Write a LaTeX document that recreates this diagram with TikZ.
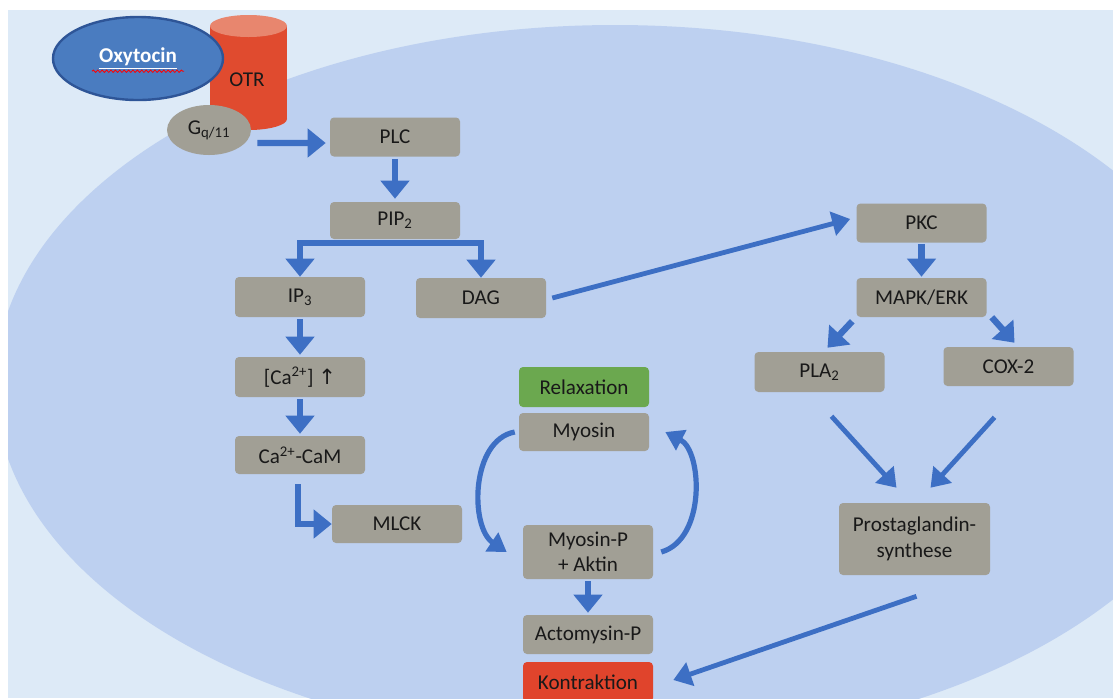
\documentclass[tikz,border=0pt]{standalone}
\usepackage{fontspec}
\setmainfont{Carlito}
\newfontfamily\symfont{DejaVu Sans}
\usetikzlibrary{arrows.meta,shapes.geometric,decorations.pathmorphing}

\definecolor{bgblue}{HTML}{DDEAF7}
\definecolor{cellblue}{HTML}{BDD0F0}
\definecolor{boxgray}{HTML}{A19F95}
\definecolor{arrblue}{HTML}{3D6FC4}
\definecolor{relaxgreen}{HTML}{6BA84F}
\definecolor{kontrred}{HTML}{E0442C}
\definecolor{otrred}{HTML}{E04B2F}
\definecolor{otrtop}{HTML}{E8866E}
\definecolor{oxyblue}{HTML}{4A7CC0}
\definecolor{oxyline}{HTML}{2E5597}

\tikzset{
  molbox/.style={rectangle, rounded corners=1mm, fill=boxgray, minimum width=32.5mm,
    minimum height=9.75mm, inner sep=0pt, text=black!90, align=center,
    font=\fontsize{15}{18}\selectfont},
  arr/.style={arrblue, line width=1.6mm, -{Triangle[width=7mm,length=4.5mm]}},
  thinarr/.style={arrblue, line width=1.2mm, -{Triangle[width=6mm,length=4.5mm]}},
  cycarr/.style={arrblue, line width=1.3mm, -{Triangle[width=5.5mm,length=4.5mm]}},
}

\begin{document}
\begin{tikzpicture}[x=0.25mm,y=-0.25mm]
\useasboundingbox (0,0) rectangle (1113,698);

% Backdrop and cell
\fill[bgblue] (8,10) rectangle (1113,698);
\begin{scope}
  \clip (8,10) rectangle (1113,698);
  \fill[cellblue] (615,385) ellipse [x radius=620, y radius=360];
\end{scope}

% Receptor (OTR)
\fill[otrred] (210,26) rectangle (287,119);
\fill[otrred] (248.5,119) ellipse [x radius=38.5, y radius=11];
\fill[otrtop] (248.5,26) ellipse [x radius=38.5, y radius=11];
\node[font=\fontsize{15}{16}\selectfont, text=black!90] (OTR) at (247,80) {OTR};

% Ligand and G protein
\node[ellipse, fill=oxyblue, draw=oxyline, line width=0.6mm, minimum width=42.5mm,
  minimum height=20.75mm, inner sep=0pt, text=white,
  font=\bfseries\fontsize{15}{16}\selectfont] (Oxy) at (138,58.5) {\underline{Oxytocin}};
\draw[red, line width=0.2mm, decorate, decoration={snake, amplitude=0.3mm, segment length=1.1mm}]
  ([xshift=-11.5mm,yshift=-2.1mm]Oxy.base) -- ([xshift=11.5mm,yshift=-2.1mm]Oxy.base);
\node[ellipse, fill=boxgray, minimum width=21mm, minimum height=12.5mm, inner sep=0pt,
  text=black!90, font=\fontsize{15}{16}\selectfont] (Gq) at (209,130) {G\textsubscript{q/11}};

% Left branch
\node[molbox] (PLC) at (395,137) {PLC};
\node[molbox, minimum height=9.25mm] (PIP2) at (395,220.5) {PIP\textsubscript{2}};
\node[molbox, minimum height=10mm] (IP3) at (300,297) {IP\textsubscript{3}};
\node[molbox, minimum height=10mm] (DAG) at (481,298) {DAG};
\node[molbox, minimum height=10mm] (Ca) at (300,377) {[Ca\textsuperscript{2+}] {\symfont ↑}};
\node[molbox, minimum height=9.5mm] (CaM) at (300,455) {Ca\textsuperscript{2+}-CaM};
\node[molbox, minimum height=9.5mm] (MLCK) at (397,524) {MLCK};

% Contraction cycle
\node[molbox, fill=relaxgreen, minimum height=10mm] (Relax) at (584,387) {Relaxation};
\node[molbox, minimum height=9.5mm] (Myo) at (584,432) {Myosin};
\node[molbox, minimum height=13.5mm] (MyoP) at (588,552) {Myosin-P\\+ Aktin};
\node[molbox] (Acto) at (588,634.5) {Actomysin-P};
\node[molbox, fill=kontrred, minimum height=10mm] (Kontr) at (588,682) {Kontraktion};

% Right branch
\node[molbox] (PKC) at (921.5,223) {PKC};
\node[molbox] (MAPK) at (921.5,297.5) {MAPK/ERK};
\node[molbox, minimum height=10mm] (PLA2) at (819.5,372) {PLA\textsubscript{2}};
\node[molbox] (COX2) at (1008.5,366.5) {COX-2};
\node[molbox, minimum width=37.75mm, minimum height=18mm] (PG) at (914.5,539) {Prostaglandin-\\synthese};

% Arrows
\draw[arr] ([xshift=1.5mm,yshift=-3.25mm]Gq.east) -- ([xshift=-1mm,yshift=-1.5mm]PLC.west);
\draw[arr] ([yshift=-0.5mm]PLC.south) -- ([yshift=0.75mm]PIP2.north);
\draw[arr] ([yshift=-1mm]PIP2.south) -| (IP3.north);
\draw[arr] ([yshift=-1mm]PIP2.south) -| (DAG.north);
\draw[arr] ([yshift=-0.5mm]IP3.south) -- ([yshift=0.5mm]Ca.north);
\draw[arr] ([yshift=-0.5mm]Ca.south) -- ([yshift=0.5mm]CaM.north);
\draw[arr] ([xshift=-0.5mm,yshift=-2.5mm]CaM.south) |- (MLCK.west);
\draw[thinarr] ([xshift=1.5mm]DAG.east) -- ([xshift=-1.5mm,yshift=1mm]PKC.west);
\draw[arr] ([yshift=-0.25mm]PKC.south) -- ([yshift=0.25mm]MAPK.north);
\draw[arr] ([xshift=-1mm,yshift=-1mm]MAPK.south west) -- ([xshift=2mm,yshift=1mm]PLA2.north);
\draw[arr] ([xshift=1.25mm]MAPK.south east) -- ([xshift=1.5mm,yshift=1mm]COX2.north);
\draw[thinarr] ([xshift=3mm,yshift=-6mm]PLA2.south) -- ([xshift=-4.5mm,yshift=3.75mm]PG.north);
\draw[thinarr] ([xshift=-3.5mm,yshift=-7.75mm]COX2.south) -- ([xshift=4mm,yshift=3.75mm]PG.north);
\draw[thinarr] ([xshift=0.5mm,yshift=-5.25mm]PG.south) -- ([xshift=5mm,yshift=0.5mm]Kontr.east);
\draw[arr] ([yshift=-0.5mm]MyoP.south) -- ([yshift=0.5mm]Acto.north);
\draw[cycarr] ([xshift=-1mm]Myo.west) .. controls +(-44,8) and +(-37,-25) .. ([xshift=-4mm]MyoP.west);
\draw[cycarr] ([xshift=2mm]MyoP.east) .. controls +(45,-13) and +(37,19) .. ([xshift=4mm]Myo.east);

\end{tikzpicture}
\end{document}
